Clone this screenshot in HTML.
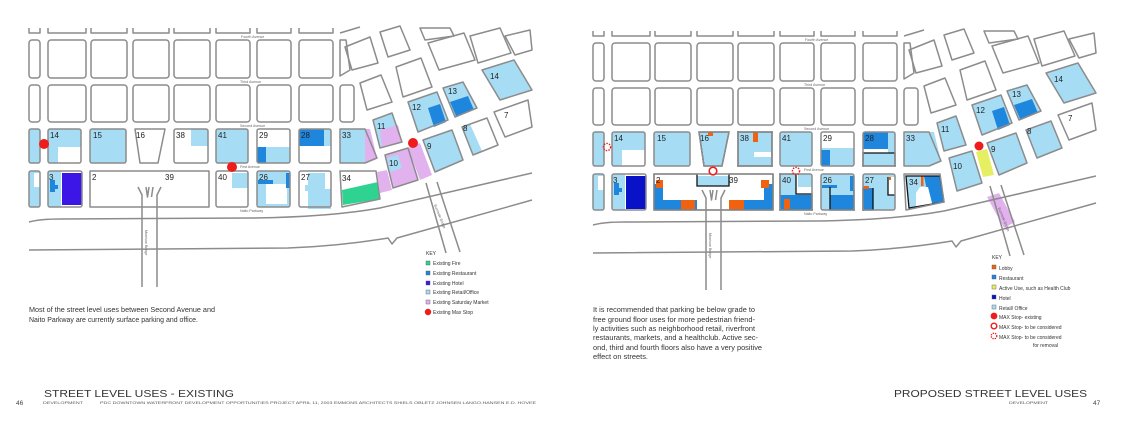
<!DOCTYPE html>
<html><head><meta charset="utf-8"><style>
html,body{margin:0;padding:0;background:#fff;}
svg{display:block;font-family:"Liberation Sans",sans-serif;}
</style></head><body>
<svg width="1128" height="436" viewBox="0 0 1128 436" xmlns="http://www.w3.org/2000/svg">
<defs>
<g id="streets" fill="none" stroke="#8c8c8c" stroke-width="1.5" stroke-linejoin="round">
  <path d="M29 28v5h11v-5M48 28v5h38v-5M91 28v5h36v-5M133 28v5h36v-5M174 28v5h36v-5M216 28v5h34v-5M257 28v5h34v-5M299 28v5h34v-5M340 33l20-6"/>
  <rect x="29" y="40" width="11" height="38" rx="3"/>
  <rect x="48" y="40" width="38" height="38" rx="3"/>
  <rect x="91" y="40" width="36" height="38" rx="3"/>
  <rect x="133" y="40" width="36" height="38" rx="3"/>
  <rect x="174" y="40" width="36" height="38" rx="3"/>
  <rect x="216" y="40" width="34" height="38" rx="3"/>
  <rect x="257" y="40" width="34" height="38" rx="3"/>
  <rect x="299" y="40" width="34" height="38" rx="3"/>
  <path d="M340 40h6l4 30-10 6z"/>
  <rect x="29" y="85" width="11" height="37" rx="3"/>
  <rect x="48" y="85" width="38" height="37" rx="3"/>
  <rect x="91" y="85" width="36" height="37" rx="3"/>
  <rect x="133" y="85" width="36" height="37" rx="3"/>
  <rect x="174" y="85" width="36" height="37" rx="3"/>
  <rect x="216" y="85" width="34" height="37" rx="3"/>
  <rect x="257" y="85" width="34" height="37" rx="3"/>
  <rect x="299" y="85" width="34" height="37" rx="3"/>
  <rect x="340" y="85" width="14" height="37" rx="3"/>
  <polygon points="345,47 370,37 378,63 352,70"/>
  <polygon points="360,83 381,75 392,102 367,110"/>
  <polygon points="396,67 421,58 432,87 403,97"/>
  <polygon points="380,32 400,26 410,50 388,57"/>
  <polygon points="428,43 464,33 475,60 439,70"/>
  <polygon points="420,28 450,28 454,36 425,40"/>
  <polygon points="470,36 500,28 511,53 478,63"/>
  <polygon points="505,36 530,30 532,50 515,55"/>
  <rect x="29" y="129" width="11" height="34" rx="2"/>
  <rect x="48" y="129" width="33" height="34" rx="2"/>
  <rect x="90" y="129" width="36" height="34" rx="2"/>
  <polygon points="135,129 165,129 158,163 140,163"/>
  <rect x="174" y="129" width="34" height="34" rx="2"/>
  <rect x="216" y="129" width="32" height="34" rx="2"/>
  <rect x="257" y="129" width="33" height="34" rx="2"/>
  <rect x="299" y="129" width="32" height="34" rx="2"/>
  <polygon points="340,129 365,129 377,158 365,163 340,163"/>
  <polygon points="373,120 392,113 402,142 380,148"/>
  <polygon points="408,102 437,92 448,120 418,132"/>
  <polygon points="443,88 463,82 477,108 455,117"/>
  <polygon points="482,70 514,60 532,90 500,100"/>
  <polygon points="462,127 487,118 498,145 473,155"/>
  <polygon points="494,112 528,100 532,127 505,137"/>
  <polygon points="423,140 452,130 463,160 435,172"/>
  <polygon points="385,155 408,148 418,180 393,188"/>
  <rect x="29" y="171" width="11" height="36" rx="2"/>
  <rect x="48" y="171" width="34" height="36" rx="2"/>
  <path d="M90 171h119v36h-119z"/>
  <rect x="216" y="171" width="32" height="36" rx="2"/>
  <rect x="257" y="171" width="33" height="36" rx="2"/>
  <rect x="299" y="171" width="32" height="36" rx="2"/>
  <polygon points="340,171 376,171 380,199 342,207"/>
  <path d="M29 222 Q40 219 60 219 L252 218 Q330 217 380 208 L532 173"/>
  <path d="M29 250 L288 248 Q340 246 388 238 L392 244 L397 238 L532 200"/>
  <path d="M142 287V195l-4-8M157 287V195l4-8M146 187l1.5 10 1.5-10M153 187l-1.5 10"/>
  <path d="M426 183L446 253M437 182L460 252"/>
</g>
<g id="labels" font-size="3.6" fill="#666">
  <text x="241" y="38">Fourth Avenue</text>
  <text x="240" y="83">Third Avenue</text>
  <text x="240" y="127">Second Avenue</text>
  <text x="240" y="168">First Avenue</text>
  <text x="240" y="212">Naito Parkway</text>
  <text transform="translate(145,230) rotate(90)">Morrison Bridge</text>
  <text transform="translate(434,205) rotate(68)">Burnside Bridge</text>
</g>
</defs>

<g stroke="none">
  <rect x="29" y="129" width="11" height="34" fill="#a6dcf4"/>
  <rect x="48" y="129" width="33" height="34" fill="#a6dcf4"/>
  <rect x="58" y="147" width="23" height="16" fill="#fff"/>
  <rect x="90" y="129" width="36" height="34" fill="#a6dcf4"/>
  <rect x="191" y="129" width="17" height="17" fill="#a6dcf4"/>
  <rect x="216" y="129" width="32" height="34" fill="#a6dcf4"/>
  <rect x="257" y="147" width="33" height="16" fill="#a6dcf4"/>
  <rect x="257" y="147" width="9" height="16" fill="#1e86dc"/>
  <rect x="299" y="129" width="25" height="17" fill="#1e86dc"/>
  <rect x="324" y="129" width="7" height="17" fill="#a6dcf4"/>
  <rect x="340" y="129" width="25" height="34" fill="#a6dcf4"/>
  <polygon points="365,129 370,129 377,158 365,163" fill="#e2b2ee"/>
  <polygon points="373,120 392,113 402,142 380,148" fill="#a6dcf4"/>
  <polygon points="380,130 398,125 402,142 382,148" fill="#e2b2ee"/>
  <polygon points="408,102 437,92 448,120 418,132" fill="#a6dcf4"/>
  <polygon points="428,108 440,104 446,122 434,127" fill="#1e86dc"/>
  <polygon points="443,88 463,82 477,108 455,117" fill="#a6dcf4"/>
  <polygon points="450,102 468,96 474,110 456,116" fill="#1e86dc"/>
  <polygon points="482,70 514,60 532,90 500,100" fill="#a6dcf4"/>
  <polygon points="462,127 470,124 482,151 473,155" fill="#a6dcf4"/>
  <polygon points="423,140 452,130 463,160 435,172" fill="#a6dcf4"/>
  <polygon points="408,148 420,143 432,175 420,180" fill="#e2b2ee"/>
  <polygon points="385,155 408,148 418,180 393,188" fill="#e2b2ee"/>
  <polygon points="387,158 398,155 402,168 390,172" fill="#a6dcf4"/>
  <polygon points="377,172 387,170 392,190 380,193" fill="#e2b2ee"/>
  <rect x="29" y="171" width="11" height="36" fill="#a6dcf4"/>
  <rect x="34" y="173" width="6" height="14" fill="#fff"/>
  <rect x="48" y="171" width="13" height="36" fill="#a6dcf4"/>
  <path d="M50 180h5v5h3v4h-3v3h-5z" fill="#1e86dc"/>
  <rect x="62" y="173" width="20" height="32" fill="#3c16e6"/>
  <rect x="232" y="173" width="16" height="15" fill="#a6dcf4"/>
  <rect x="257" y="171" width="33" height="36" fill="#a6dcf4"/>
  <rect x="266" y="184" width="21" height="20" fill="#fff"/>
  <rect x="258" y="180" width="15" height="4" fill="#1e86dc"/>
  <rect x="286" y="173" width="4" height="15" fill="#1e86dc"/>
  <path d="M308 173h23v36h-23v-18h-3v-6h3z" fill="#a6dcf4"/>
  <rect x="325" y="173" width="6" height="16" fill="#fff"/>
  <polygon points="342,190 378,182 380,199 343,205" fill="#2ed392"/>
</g>
<use href="#streets"/>
<use href="#labels"/>
<g fill="#ee1c1c">
  <circle cx="44" cy="144" r="5"/>
  <circle cx="232" cy="167" r="5"/>
  <circle cx="413" cy="143" r="5"/>
</g>
<g font-size="8" fill="#222">
  <text x="50" y="138">14</text><text x="93" y="138">15</text><text x="136" y="138">16</text>
  <text x="176" y="138">38</text><text x="218" y="138">41</text><text x="259" y="138">29</text>
  <text x="301" y="138">28</text><text x="342" y="138">33</text><text x="377" y="129">11</text>
  <text x="412" y="110">12</text><text x="448" y="94">13</text><text x="490" y="79">14</text>
  <text x="463" y="131">8</text><text x="504" y="118">7</text><text x="427" y="149">9</text>
  <text x="389" y="166">10</text><text x="49" y="180">3</text><text x="92" y="180">2</text>
  <text x="165" y="180">39</text><text x="218" y="180">40</text><text x="259" y="180">26</text>
  <text x="301" y="180">27</text><text x="342" y="181">34</text>
</g>

<g transform="translate(564,3)">
<g stroke="none">
  <rect x="29" y="129" width="11" height="34" fill="#a6dcf4"/>
  <rect x="48" y="129" width="33" height="34" fill="#a6dcf4"/>
  <rect x="58" y="147" width="23" height="16" fill="#fff"/>
  <rect x="90" y="129" width="36" height="34" fill="#a6dcf4"/>
  <polygon points="135,129 165,129 158,163 140,163" fill="#a6dcf4"/>
  <rect x="144" y="129" width="5" height="4" fill="#f0620f"/>
  <rect x="174" y="129" width="34" height="34" fill="#a6dcf4"/>
  <rect x="189" y="129" width="5" height="10" fill="#f0620f"/>
  <rect x="190" y="149" width="17" height="5" fill="#fff"/>
  <rect x="216" y="129" width="32" height="34" fill="#a6dcf4"/>
  <rect x="257" y="145" width="33" height="18" fill="#a6dcf4"/>
  <rect x="257" y="147" width="9" height="16" fill="#1e86dc"/>
  <rect x="299" y="129" width="25" height="17" fill="#1e86dc"/>
  <rect x="324" y="129" width="7" height="34" fill="#a6dcf4"/>
  <rect x="299" y="150" width="32" height="13" fill="#a6dcf4"/>
  <rect x="340" y="129" width="25" height="34" fill="#a6dcf4"/>
  <polygon points="365,129 370,129 377,158 365,163" fill="#a6dcf4"/>
  <polygon points="373,120 392,113 402,142 380,148" fill="#a6dcf4"/>
  <polygon points="408,102 437,92 448,120 418,132" fill="#a6dcf4"/>
  <polygon points="428,108 440,104 446,122 434,127" fill="#1e86dc"/>
  <polygon points="443,88 463,82 477,108 455,117" fill="#a6dcf4"/>
  <polygon points="450,102 468,96 474,110 456,116" fill="#1e86dc"/>
  <polygon points="482,70 514,60 532,90 500,100" fill="#a6dcf4"/>
  <polygon points="462,127 487,118 498,145 473,155" fill="#a6dcf4"/>
  <polygon points="423,140 452,130 463,160 435,172" fill="#a6dcf4"/>
  <polygon points="412,149 423,146 430,172 419,174" fill="#e6ee62"/>
  <polygon points="385,155 408,148 418,180 393,188" fill="#a6dcf4"/>
  <polygon points="423,194 435,190 451,219 440,225" fill="#e2b2ee"/>
  <rect x="29" y="171" width="11" height="36" fill="#a6dcf4"/>
  <rect x="34" y="173" width="6" height="14" fill="#fff"/>
  <rect x="48" y="171" width="13" height="36" fill="#a6dcf4"/>
  <path d="M50 180h5v5h3v4h-3v3h-5z" fill="#1e86dc"/>
  <rect x="62" y="173" width="20" height="33" fill="#0a12c8"/>
  <rect x="90" y="171" width="119" height="36" fill="#fff"/>
  <rect x="90" y="181" width="9" height="26" fill="#1e86dc"/>
  <rect x="200" y="181" width="9" height="26" fill="#1e86dc"/>
  <rect x="90" y="197" width="119" height="10" fill="#1e86dc"/>
  <rect x="133" y="173" width="32" height="10" fill="#a6dcf4"/>
  <rect x="133" y="183" width="32" height="24" fill="#fff"/>
  <rect x="92" y="177" width="7" height="8" fill="#f0620f"/>
  <rect x="117" y="197" width="14" height="10" fill="#f0620f"/>
  <rect x="165" y="197" width="15" height="10" fill="#f0620f"/>
  <rect x="197" y="177" width="8" height="8" fill="#f0620f"/>
  <rect x="216" y="171" width="32" height="36" fill="#a6dcf4"/>
  <rect x="216" y="192" width="32" height="15" fill="#1e86dc"/>
  <rect x="232" y="171" width="16" height="20" fill="#fff"/>
  <rect x="234" y="171" width="14" height="13" fill="#a6dcf4"/>
  <rect x="220" y="196" width="6" height="10" fill="#f0620f"/>
  <rect x="257" y="171" width="33" height="36" fill="#a6dcf4"/>
  <rect x="266" y="192" width="24" height="15" fill="#1e86dc"/>
  <rect x="258" y="182" width="15" height="3" fill="#1e86dc"/>
  <rect x="286" y="173" width="4" height="15" fill="#1e86dc"/>
  <rect x="299" y="171" width="32" height="36" fill="#a6dcf4"/>
  <rect x="299" y="185" width="10" height="22" fill="#1e86dc"/>
  <rect x="299" y="183" width="6" height="3" fill="#f0620f"/>
  <rect x="324" y="174" width="7" height="18" fill="#fff"/>
  <rect x="325" y="174" width="2" height="3" fill="#f0620f"/>
  <polygon points="342,173 376,173 380,199 345,205" fill="#a6dcf4"/>
  <polygon points="360,173 376,173 380,199 366,202" fill="#1e86dc"/>
  <path d="M352 205 L352 190 L356 184 L364 184 L368 200 L367 205 Z" fill="#fff"/>
  <rect x="357" y="173" width="2.5" height="10" fill="#f0620f"/>
</g>
<g fill="none" stroke="#111" stroke-width="1.3">
  <polygon points="135,129 165,129 158,163 140,163"/>
  <rect x="174" y="129" width="34" height="34"/>
  <path d="M90 171h43v12h32v-12h44v36h-119z"/>
  <path d="M232 171h-16v36h32v-16h-16z"/>
  <path d="M266 184v23h24v-20"/>
  <path d="M299 185v22h10v-22M324 174v18h7"/>
  <path d="M299 150h32v13h-32z"/>
  <polygon points="342,173 376,173 380,199 345,205"/>
</g>
<use href="#streets"/>
<use href="#labels"/>
<circle cx="415" cy="143" r="4.5" fill="#ee1c1c"/>
<circle cx="149" cy="168" r="3.8" fill="#fff" stroke="#ee1c1c" stroke-width="1.6"/>
<circle cx="43" cy="144" r="3.6" fill="none" stroke="#ee1c1c" stroke-width="1.4" stroke-dasharray="1.5 1.2"/>
<circle cx="232" cy="168" r="3.6" fill="none" stroke="#ee1c1c" stroke-width="1.4" stroke-dasharray="1.5 1.2"/>
<g font-size="8" fill="#222">
  <text x="50" y="138">14</text><text x="93" y="138">15</text><text x="136" y="138">16</text>
  <text x="176" y="138">38</text><text x="218" y="138">41</text><text x="259" y="138">29</text>
  <text x="301" y="138">28</text><text x="342" y="138">33</text><text x="377" y="129">11</text>
  <text x="412" y="110">12</text><text x="448" y="94">13</text><text x="490" y="79">14</text>
  <text x="463" y="131">8</text><text x="504" y="118">7</text><text x="427" y="149">9</text>
  <text x="389" y="166">10</text><text x="49" y="180">3</text><text x="92" y="180">2</text>
  <text x="165" y="180">39</text><text x="218" y="180">40</text><text x="259" y="180">26</text>
  <text x="301" y="180">27</text><text x="345" y="182">34</text>
</g>
</g>

<g font-size="5" fill="#333">
  <text x="426" y="255">KEY</text>
  <rect x="426" y="261" width="4" height="4" fill="#2ed392" stroke="#555" stroke-width=".4"/><text x="433" y="265">Existing Fire</text>
  <rect x="426" y="271" width="4" height="4" fill="#1e86dc" stroke="#555" stroke-width=".4"/><text x="433" y="275">Existing Restaurant</text>
  <rect x="426" y="281" width="4" height="4" fill="#3c16e6" stroke="#555" stroke-width=".4"/><text x="433" y="285">Existing Hotel</text>
  <rect x="426" y="290" width="4" height="4" fill="#a6dcf4" stroke="#555" stroke-width=".4"/><text x="433" y="294">Existing Retail/Office</text>
  <rect x="426" y="300" width="4" height="4" fill="#e2b2ee" stroke="#555" stroke-width=".4"/><text x="433" y="304">Existing Saturday Market</text>
  <circle cx="428" cy="312" r="3.2" fill="#ee1c1c"/><text x="433" y="314">Existing Max Stop</text>
</g>
<g font-size="7" fill="#333">
  <text x="29" y="312" textLength="186" lengthAdjust="spacingAndGlyphs">Most of the street level uses between Second Avenue and</text>
  <text x="29" y="322" textLength="169" lengthAdjust="spacingAndGlyphs">Naito Parkway are currently surface parking and office.</text>
</g>
<text x="44" y="397" font-size="10.5" fill="#333" textLength="190" lengthAdjust="spacingAndGlyphs">STREET LEVEL USES - EXISTING</text>
<text x="16" y="405" font-size="6.5" fill="#444">46</text>
<text x="43" y="404" font-size="3.6" fill="#555" textLength="40" lengthAdjust="spacingAndGlyphs">DEVELOPMENT</text>
<text x="100" y="404" font-size="3.6" fill="#555" textLength="436" lengthAdjust="spacingAndGlyphs">PDC DOWNTOWN WATERFRONT DEVELOPMENT OPPORTUNITIES PROJECT  APRIL 11, 2003  EMMONS ARCHITECTS  SHIELS OBLETZ JOHNSEN  LANGO.HANSEN  E.D. HOVEE</text>

<g font-size="5" fill="#333">
  <text x="992" y="259">KEY</text>
  <rect x="992" y="265" width="4" height="4" fill="#f0620f" stroke="#555" stroke-width=".4"/><text x="999" y="270">Lobby</text>
  <rect x="992" y="275" width="4" height="4" fill="#1e86dc" stroke="#555" stroke-width=".4"/><text x="999" y="280">Restaurant</text>
  <rect x="992" y="285" width="4" height="4" fill="#e6ee62" stroke="#555" stroke-width=".4"/><text x="999" y="290">Active Use, such as Health Club</text>
  <rect x="992" y="295" width="4" height="4" fill="#0a12c8" stroke="#555" stroke-width=".4"/><text x="999" y="300">Hotel</text>
  <rect x="992" y="305" width="4" height="4" fill="#a6dcf4" stroke="#555" stroke-width=".4"/><text x="999" y="310">Retail/ Office</text>
  <circle cx="994" cy="316" r="3.4" fill="#ee1c1c"/><text x="999" y="319">MAX Stop- existing</text>
  <circle cx="994" cy="326" r="2.8" fill="#fff" stroke="#ee1c1c" stroke-width="1.4"/><text x="999" y="329">MAX Stop- to be considered</text>
  <circle cx="994" cy="336" r="2.8" fill="none" stroke="#ee1c1c" stroke-width="1.3" stroke-dasharray="1.3 1"/><text x="999" y="339">MAX Stop- to be considered</text>
  <text x="1033" y="347">for removal</text>
</g>
<g font-size="7" fill="#333">
  <text x="593" y="312" textLength="162" lengthAdjust="spacingAndGlyphs">It is recommended that parking be below grade to</text>
  <text x="593" y="322" textLength="162" lengthAdjust="spacingAndGlyphs">free ground floor uses for more pedestrian friend-</text>
  <text x="593" y="331" textLength="162" lengthAdjust="spacingAndGlyphs">ly activities such as neighborhood retail, riverfront</text>
  <text x="593" y="340" textLength="165" lengthAdjust="spacingAndGlyphs">restaurants, markets, and a healthclub.  Active sec-</text>
  <text x="593" y="350" textLength="169" lengthAdjust="spacingAndGlyphs">ond, third and fourth floors also have a very positive</text>
  <text x="593" y="359" textLength="55" lengthAdjust="spacingAndGlyphs">effect on streets.</text>
</g>
<text x="894" y="397" font-size="10.5" fill="#333" textLength="193" lengthAdjust="spacingAndGlyphs">PROPOSED STREET LEVEL USES</text>
<text x="1048" y="404" font-size="3.6" fill="#555" textLength="39" lengthAdjust="spacingAndGlyphs" text-anchor="end">DEVELOPMENT</text>
<text x="1093" y="405" font-size="6.5" fill="#444">47</text>
</svg>
</body></html>
